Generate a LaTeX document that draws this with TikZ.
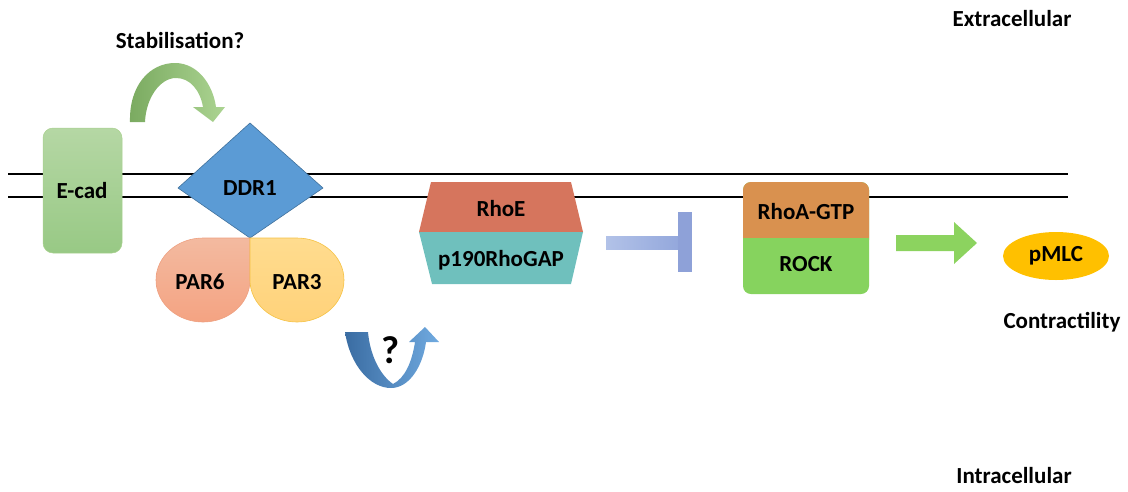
\documentclass[tikz,border=0pt]{standalone}
\usepackage{fontspec}
\setmainfont{Carlito}
\usetikzlibrary{shapes.geometric}
\begin{document}
\begin{tikzpicture}[x=1pt,y=-1pt,
  lbl/.style={font=\fontsize{23}{27}\selectfont\bfseries, inner sep=0pt, text=black},
  memline/.style={draw=black, line width=1.3pt}]
\useasboundingbox (0,0) rectangle (1128,491);
\definecolor{ddrblue}{HTML}{5B9BD5}
\definecolor{ddrborder}{HTML}{41719C}
\definecolor{rhoered}{HTML}{D6755D}
\definecolor{gapteal}{HTML}{6FC0BD}
\definecolor{rhoaorange}{HTML}{D9914F}
\definecolor{rockgreen}{HTML}{86D35E}
\definecolor{arrowgreen}{HTML}{8CD35F}
\definecolor{pmlcyellow}{HTML}{FFC000}
\definecolor{ecadtop}{HTML}{B5D7A4}
\definecolor{ecadbot}{HTML}{98C985}
\definecolor{ecadborder}{HTML}{A9D18E}
\definecolor{parsixtop}{HTML}{F3BAA0}
\definecolor{parsixbot}{HTML}{F4A382}
\definecolor{parsixborder}{HTML}{EEA080}
\definecolor{parthreetop}{HTML}{FFDC8F}
\definecolor{parthreebot}{HTML}{FFD27A}
\definecolor{parthreeborder}{HTML}{F5C243}
\definecolor{stabdark}{HTML}{7AAA60}
\definecolor{stablight}{HTML}{ACD492}
\definecolor{udark}{HTML}{3A6CA2}
\definecolor{ulight}{HTML}{70AAE0}
\definecolor{tlight}{HTML}{B2C2E8}
\definecolor{tdark}{HTML}{94A8DC}
\definecolor{tbar}{HTML}{8EA1D8}

% membrane
\coordinate (mTL) at (8,174);
\coordinate (mTR) at (1068,174);
\coordinate (mBL) at (8,197);
\coordinate (mBR) at (1068,197);
\draw[memline] (mTL) -- (mTR);
\draw[memline] (mBL) -- (mBR);

% E-cad
\node (ecad) [draw=ecadborder, line width=0.5pt, rounded corners=10pt,
  minimum width=79pt, minimum height=125pt, top color=ecadtop,
  bottom color=ecadbot] at (82.5,190.5) {};
\node[lbl] (ecadlbl) at (82,191) {E-cad};

% DDR1 diamond
\filldraw[fill=ddrblue, draw=ddrborder, line width=0.6pt]
  (250,123) -- (323,188) -- (250,238) -- (178,188) -- cycle;
\node[lbl] (ddr1) at (250,188) {DDR1};

% PAR6 / PAR3
\shade[top color=parsixtop, bottom color=parsixbot]
  (250,238) -- (250,280) arc[start angle=0,end angle=90,x radius=47,y radius=42]
  arc[start angle=90,end angle=180,x radius=47,y radius=42]
  arc[start angle=180,end angle=270,x radius=47,y radius=42] -- cycle;
\draw[draw=parsixborder, line width=0.6pt]
  (250,238) -- (250,280) arc[start angle=0,end angle=90,x radius=47,y radius=42]
  arc[start angle=90,end angle=180,x radius=47,y radius=42]
  arc[start angle=180,end angle=270,x radius=47,y radius=42] -- cycle;
\shade[top color=parthreetop, bottom color=parthreebot]
  (250,238) -- (250,280) arc[start angle=180,end angle=90,x radius=47,y radius=42]
  arc[start angle=90,end angle=0,x radius=47,y radius=42]
  arc[start angle=0,end angle=-90,x radius=47,y radius=42] -- cycle;
\draw[draw=parthreeborder, line width=0.6pt]
  (250,238) -- (250,280) arc[start angle=180,end angle=90,x radius=47,y radius=42]
  arc[start angle=90,end angle=0,x radius=47,y radius=42]
  arc[start angle=0,end angle=-90,x radius=47,y radius=42] -- cycle;
\node[lbl] (par6) at (200,282) {PAR6};
\node[lbl] (par3) at (297,282) {PAR3};

% Stabilisation arrow
\shade[left color=stabdark, right color=stablight]
  (130,122) .. controls (129,85) and (150,63) .. (175,63)
  .. controls (198,63) and (213,85) .. (216,107)
  -- (225,107) -- (213,122) -- (193,107) -- (203,107)
  .. controls (200,90) and (190,78) .. (176,78)
  .. controls (160,78) and (146,98) .. (145,122) -- cycle;
\node[lbl] (stab) at (180,40) {Stabilisation?};

% RhoE / p190RhoGAP
\fill[rhoered] (431,182) -- (571,182) -- (583,232) -- (419,232) -- cycle;
\fill[gapteal] (419,232) -- (583,232) -- (571,284) -- (432,284) -- cycle;
\node[lbl] (rhoe) at (501,209) {RhoE};
\node[lbl] (p190) at (501,260) {p190RhoGAP};

% blue U-turn arrow with ?
\shade[left color=udark, right color=ulight]
  (345,332) .. controls (350,365) and (370,388) .. (391,388)
  .. controls (410,388) and (423,365) .. (426,342)
  -- (439,342) -- (425,327) -- (409,342) -- (415,342)
  .. controls (412,362) and (405,378) .. (393,384)
  .. controls (380,375) and (370,355) .. (368,332) -- cycle;
\node[font=\fontsize{39}{41}\selectfont\bfseries, inner sep=0pt] (qmark) at (391,350) {?};

% inhibition T
\shade[left color=tlight, right color=tdark] (606,236) rectangle (678,249);
\fill[tbar] (678,212) rectangle (692,272);

% RhoA-GTP / ROCK
\fill[rockgreen, rounded corners=8pt] (743,182) rectangle (869,294);
\fill[rhoaorange, rounded corners=8pt] (743,182) rectangle (869,248);
\fill[rockgreen] (743,238) rectangle (869,249);
\node[lbl] (rhoa) at (806,212) {RhoA-GTP};
\node[lbl] (rock) at (806,264) {ROCK};

% green arrow
\fill[arrowgreen] (896,235) -- (954,235) -- (954,222) -- (977,243) -- (954,264) -- (954,251) -- (896,251) -- cycle;

% pMLC
\node (pmlc) [ellipse, fill=pmlcyellow, minimum width=106pt, minimum height=48pt, inner sep=0pt] at (1056,256) {};
\node[lbl] (pmlclbl) at (1056,256) {pMLC};
\node[lbl] (contr) at (1062,322) {Contractility};

\node[lbl] (extra) at (1012,19) {Extracellular};
\node[lbl] (intra) at (1014,476) {Intracellular};
\end{tikzpicture}
\end{document}
